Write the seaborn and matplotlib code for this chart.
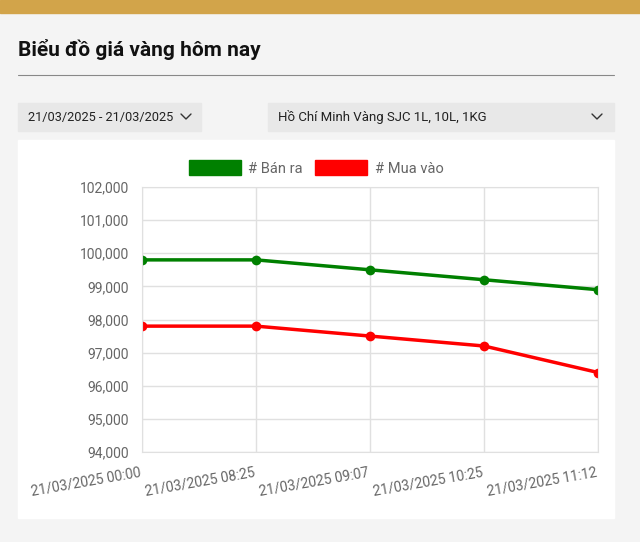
import matplotlib.pyplot as plt
import matplotlib.patches as mpatches
from matplotlib.lines import Line2D
import seaborn as sns
import pandas as pd

# Data
times = ['21/03/2025 00:00', '21/03/2025 08:25', '21/03/2025 09:07',
         '21/03/2025 10:25', '21/03/2025 11:12']
ban_ra = [99800, 99800, 99500, 99200, 98900]
mua_vao = [97800, 97800, 97500, 97200, 96400]

df = pd.DataFrame({'time': list(range(len(times))) * 2,
                   'price': ban_ra + mua_vao,
                   'series': ['# Bán ra'] * 5 + ['# Mua vào'] * 5})

sns.set_style('white')
plt.rcParams['font.family'] = ['Roboto', 'DejaVu Sans']

W, H = 640, 542
fig = plt.figure(figsize=(6.4, 5.42), dpi=100)
fig.patch.set_facecolor('#f4f4f4')

def rect(x, y, w, h, color):
    fig.patches.append(mpatches.Rectangle((x / W, 1 - (y + h) / H), w / W, h / H,
                                          transform=fig.transFigure, color=color, zorder=-5))

rect(0, 0, W, 13, '#d2a44a')
rect(18, 103, 183, 28, '#e8e8e8')
rect(268, 103, 346, 28, '#e8e8e8')
rect(18, 140, 596, 378, 'white')

fig.text(18 / W, 1 - 50 / H, 'Biểu đồ giá vàng hôm nay', fontsize=15, fontweight='bold',
         va='center', color='#111111')
fig.add_artist(Line2D([18 / W, 614 / W], [1 - 75 / H] * 2, color='#888888', lw=0.8))
fig.text(28 / W, 1 - 117 / H, '21/03/2025 - 21/03/2025', fontsize=9.2, va='center', color='#222222')
fig.text(278 / W, 1 - 117 / H, 'Hồ Chí Minh Vàng SJC 1L, 10L, 1KG', fontsize=9.5, va='center', color='#222222')
for cx in [186, 597]:
    fig.add_artist(Line2D([(cx - 5) / W, cx / W, (cx + 5) / W],
                          [1 - 114 / H, 1 - 119 / H, 1 - 114 / H], color='#333333', lw=1))

ax = fig.add_axes([142 / W, 1 - 452 / H, 456 / W, 265 / H])
ax.set_zorder(2)
ax.set_facecolor('white')
sns.lineplot(data=df, x='time', y='price', hue='series',
             palette={'# Bán ra': 'green', '# Mua vào': 'red'},
             marker='o', markersize=7, markeredgewidth=0, linewidth=2.5, ax=ax, legend=False)

ax.set_ylim(94000, 102000)
ax.set_yticks(range(94000, 102001, 1000))
ax.set_yticklabels([f'{v:,}' for v in range(94000, 102001, 1000)])
ax.set_xlim(0, 4)
ax.set_xticks(range(5))
ax.set_xticklabels(times, rotation=10, ha='right')
ax.tick_params(labelsize=10, colors='#666666', length=6, color='#e0e0e0')
ax.grid(True, color='#e0e0e0', lw=1)
ax.set_axisbelow(True)
for s in ax.spines.values():
    s.set_color('#e0e0e0')
ax.set_xlabel('')
ax.set_ylabel('')

handles = [mpatches.Patch(color='green', label='# Bán ra'),
           mpatches.Patch(color='red', label='# Mua vào')]
fig.legend(handles=handles, loc='center', bbox_to_anchor=(316 / W, 1 - 168 / H), ncol=2,
           frameon=False, handlelength=3.6, handleheight=1.2, handletextpad=0.5,
           columnspacing=0.8, fontsize=10.5, labelcolor='#666666')

fig.savefig('out.png', dpi=100, facecolor=fig.get_facecolor())
